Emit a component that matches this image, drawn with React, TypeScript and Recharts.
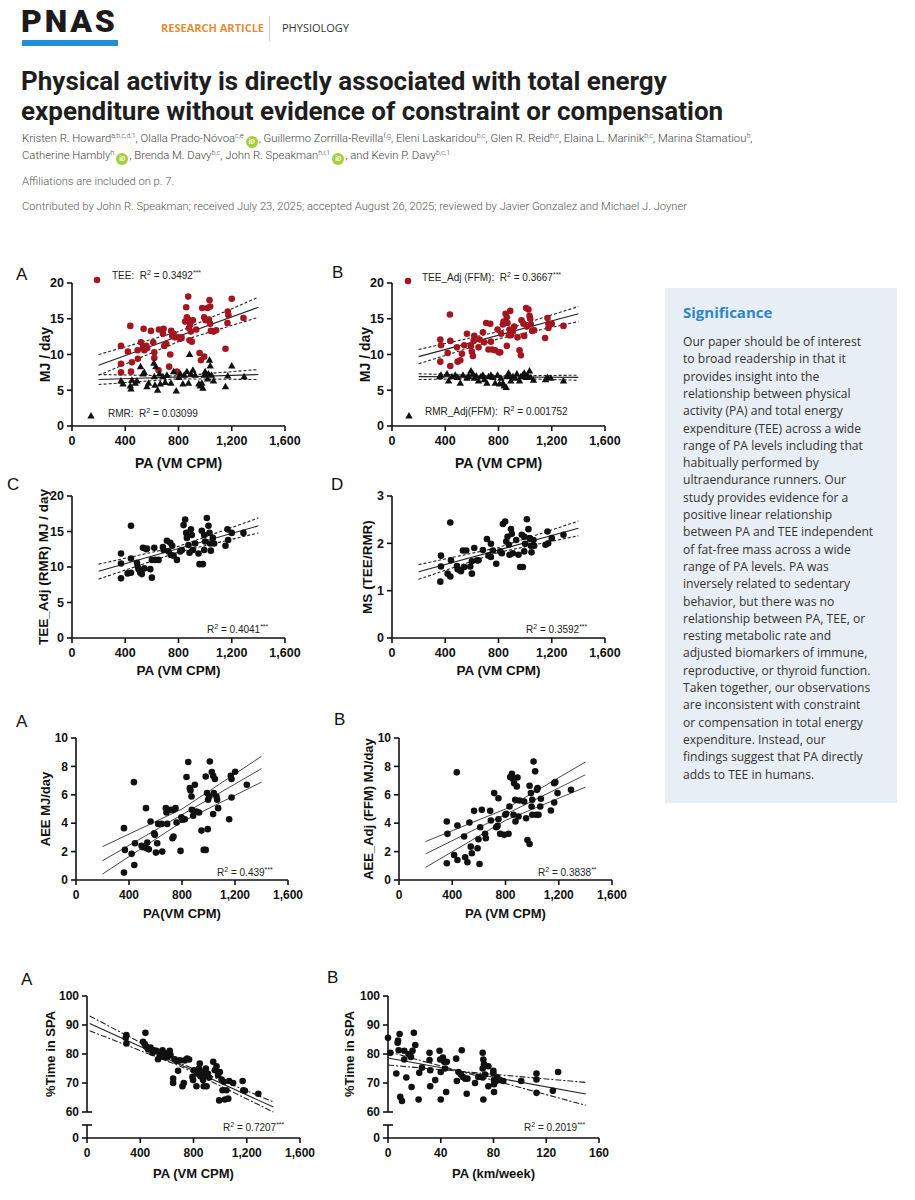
import React from "react";
import { ScatterChart, Scatter, XAxis, YAxis } from "recharts";

type Pair = [number, number];

// axis ticks
const paTicks = [0, 400, 800, 1200, 1600];
const mjTicks = [0, 5, 10, 15, 20];
const msTicks = [0, 1, 2, 3];
const aeeTicks = [0, 2, 4, 6, 8, 10];
const spaTicks = [60, 70, 80, 90, 100];
const spaBaseTicks = [0, 10];
const kmTicks = [0, 40, 80, 120, 160];

// Fig 1A: TEE and RMR vs PA
const teePoints: Pair[] = [
  [368, 11.2], [420, 10.4], [368, 8.7], [368, 7.5], [438, 14.0], [443, 7.6], [493, 10.6], [495, 9.4],
  [450, 8.9], [518, 11.7], [533, 11.0], [543, 10.6], [538, 13.6], [558, 11.2], [565, 10.9], [593, 13.3],
  [610, 11.7], [618, 10.3], [618, 9.5], [650, 7.8], [653, 13.5], [688, 13.6], [683, 12.9], [693, 11.2],
  [708, 11.5], [730, 8.3], [738, 10.0], [745, 13.3], [753, 12.6], [763, 12.9], [773, 12.4], [800, 12.4],
  [813, 12.2], [823, 12.4], [788, 7.6], [850, 14.6], [858, 16.6], [873, 18.1], [863, 15.2], [873, 14.9],
  [888, 14.2], [878, 13.7], [893, 13.2], [883, 12.0], [900, 11.8], [908, 14.8], [933, 13.5], [958, 10.2],
  [968, 9.2], [978, 16.5], [993, 15.2], [1003, 14.8], [993, 9.7], [1018, 16.5], [1033, 17.6], [1038, 16.7],
  [1028, 14.9], [1038, 14.3], [1043, 13.3], [1063, 13.2], [1083, 13.4], [1153, 10.8], [1170, 16.0],
  [1175, 15.5], [1168, 14.4], [1200, 17.8], [1288, 15.1],
];
const rmrPoints: Pair[] = [
  [368, 6.3], [383, 5.9], [438, 5.6], [443, 5.2], [450, 6.4], [475, 6.0], [488, 6.3], [515, 8.3],
  [533, 7.3], [543, 7.5], [563, 5.5], [575, 6.0], [615, 8.8], [630, 8.3], [618, 6.9], [623, 5.7],
  [643, 5.0], [658, 7.3], [663, 5.9], [683, 6.9], [700, 6.1], [713, 7.1], [743, 6.0], [763, 7.6],
  [783, 4.9], [803, 6.8], [813, 7.3], [833, 5.9], [843, 7.1], [863, 7.6], [875, 6.0], [883, 10.0],
  [893, 7.3], [908, 7.8], [925, 7.1], [953, 5.9], [963, 5.6], [975, 6.0], [983, 5.3], [993, 7.1],
  [1000, 7.6], [1018, 6.6], [1025, 7.3], [1033, 9.2], [1038, 8.4], [1048, 7.1], [1063, 6.3],
  [1153, 5.5], [1170, 7.0], [1200, 8.4], [1293, 6.9],
];
const teeFit: Pair[] = [[200, 8.5], [1400, 16.6]];
const teeUpper: Pair[] = [[200, 10.0], [800, 13.2], [1400, 18.0]];
const teeLower: Pair[] = [[200, 7.1], [800, 11.8], [1400, 15.2]];
const rmrFit: Pair[] = [[200, 6.5], [1400, 7.2]];
const rmrUpper: Pair[] = [[200, 7.2], [800, 7.0], [1400, 7.9]];
const rmrLower: Pair[] = [[200, 5.8], [800, 6.6], [1400, 6.5]];

// Fig 1B: FFM-adjusted TEE and RMR
const teeAdjPoints: Pair[] = [
  [363, 12.1], [368, 11.3], [363, 9.0], [418, 10.2], [435, 15.6], [438, 11.9], [438, 8.4], [488, 11.0],
  [493, 9.0], [513, 9.2], [525, 10.1], [543, 11.3], [563, 12.9], [593, 11.2], [600, 10.4], [608, 9.8],
  [618, 12.6], [613, 11.9], [650, 11.0], [658, 12.1], [683, 13.1], [693, 11.7], [708, 14.4], [725, 10.7],
  [738, 14.3], [743, 11.8], [753, 10.7], [775, 10.6], [793, 13.5], [803, 10.3], [813, 10.3], [820, 12.9],
  [833, 14.2], [838, 14.6], [853, 15.7], [863, 15.2], [863, 11.2], [868, 14.4], [883, 13.5], [888, 16.1],
  [878, 12.7], [893, 12.7], [908, 13.2], [918, 13.9], [943, 12.4], [958, 10.6], [968, 9.9], [973, 14.8],
  [988, 14.3], [993, 12.6], [1008, 16.5], [1025, 16.3], [1013, 13.9], [1033, 15.4], [1038, 15.0],
  [1043, 14.2], [1053, 13.3], [1068, 13.4], [1150, 12.3], [1168, 15.1], [1175, 14.3], [1175, 13.7],
  [1200, 14.3], [1288, 14.0],
];
const rmrAdjPoints: Pair[] = [
  [358, 6.9], [368, 7.1], [413, 7.3], [425, 6.3], [450, 6.9], [475, 7.1], [493, 6.8], [513, 6.0],
  [533, 7.1], [563, 6.7], [575, 7.0], [593, 7.7], [608, 7.3], [618, 6.7], [633, 7.0], [650, 6.3],
  [668, 6.9], [683, 7.1], [693, 6.5], [713, 6.0], [725, 6.9], [743, 7.1], [758, 6.8], [775, 6.0],
  [793, 7.1], [808, 5.9], [818, 6.7], [833, 6.0], [843, 5.6], [858, 5.4], [863, 6.9], [875, 7.4],
  [883, 7.1], [893, 6.3], [908, 6.9], [925, 6.7], [938, 7.3], [958, 6.3], [968, 6.9], [983, 7.1],
  [993, 7.4], [1008, 6.8], [1018, 7.1], [1033, 7.7], [1043, 6.8], [1063, 6.4], [1153, 6.5], [1168, 6.8],
  [1193, 6.7], [1288, 6.3],
];
const teeAdjFit: Pair[] = [[200, 9.7], [1400, 15.7]];
const teeAdjUpper: Pair[] = [[200, 10.7], [800, 13.2], [1400, 16.7]];
const teeAdjLower: Pair[] = [[200, 8.7], [800, 12.2], [1400, 14.6]];
const rmrAdjFit: Pair[] = [[200, 6.9], [1400, 6.8]];
const rmrAdjUpper: Pair[] = [[200, 7.3], [800, 7.0], [1400, 7.1]];
const rmrAdjLower: Pair[] = [[200, 6.5], [800, 6.7], [1400, 6.4]];

// Fig 1C: RMR-adjusted TEE
const teeRmrPoints: Pair[] = [
  [368, 11.9], [368, 10.5], [368, 8.4], [443, 15.8], [443, 11.2], [418, 9.1], [443, 9.2], [488, 10.6],
  [493, 10.1], [500, 9.7], [513, 9.2], [525, 9.0], [533, 12.7], [543, 9.8], [558, 12.5], [563, 12.6],
  [588, 9.7], [600, 11.0], [600, 8.5], [618, 12.7], [625, 11.0], [650, 11.0], [683, 12.8], [688, 12.4],
  [713, 13.7], [725, 12.2], [738, 13.4], [743, 11.7], [753, 13.0], [763, 11.6], [788, 11.0], [813, 12.2],
  [825, 12.4], [838, 15.9], [850, 16.7], [858, 14.8], [863, 14.1], [875, 13.1], [883, 12.0], [893, 15.3],
  [900, 14.5], [908, 12.4], [925, 13.3], [950, 11.9], [958, 10.4], [983, 10.4], [975, 15.1], [993, 14.5],
  [1000, 13.6], [993, 12.4], [1013, 16.9], [1025, 15.8], [1033, 14.8], [1038, 13.3], [1043, 12.3],
  [1058, 14.1], [1068, 13.3], [1153, 13.0], [1168, 15.3], [1173, 13.8], [1200, 14.8], [1288, 14.8],
];
const teeRmrFit: Pair[] = [[200, 9.4], [1400, 15.8]];
const teeRmrUpper: Pair[] = [[200, 10.4], [800, 12.9], [1400, 16.9]];
const teeRmrLower: Pair[] = [[200, 8.3], [800, 12.1], [1400, 14.8]];

// Fig 1D: metabolic scope
const msPoints: Pair[] = [
  [368, 1.74], [368, 1.51], [363, 1.19], [438, 2.44], [443, 1.64], [418, 1.36], [438, 1.30], [488, 1.52],
  [493, 1.45], [508, 1.44], [518, 1.41], [533, 1.85], [543, 1.50], [558, 1.85], [588, 1.51], [600, 1.62],
  [600, 1.36], [618, 1.90], [638, 1.64], [650, 1.64], [683, 1.86], [713, 2.09], [725, 1.74], [743, 1.99],
  [743, 1.71], [758, 1.85], [783, 1.57], [813, 1.83], [825, 1.79], [833, 2.41], [850, 2.46], [858, 2.04],
  [868, 2.14], [878, 1.97], [883, 1.76], [893, 2.30], [900, 2.20], [908, 1.79], [933, 2.07], [950, 1.76],
  [963, 1.50], [983, 1.50], [975, 2.18], [993, 2.14], [1000, 1.99], [993, 1.83], [1013, 2.51], [1025, 2.30],
  [1033, 2.11], [1043, 1.95], [1048, 1.81], [1063, 2.07], [1068, 1.95], [1153, 1.97], [1168, 2.25],
  [1173, 2.00], [1200, 2.11], [1288, 2.18],
];
const msFit: Pair[] = [[200, 1.40], [1400, 2.32]];
const msUpper: Pair[] = [[200, 1.55], [800, 1.91], [1400, 2.47]];
const msLower: Pair[] = [[200, 1.24], [800, 1.81], [1400, 2.16]];

// Fig 2A: AEE
const aeePoints: Pair[] = [
  [362, 3.65], [369, 2.12], [362, 0.52], [420, 1.84], [437, 6.89], [445, 2.59], [440, 1.06], [495, 2.40],
  [505, 2.31], [528, 5.06], [533, 2.24], [538, 2.64], [550, 2.16], [563, 4.12], [590, 3.29], [595, 3.18],
  [603, 1.93], [613, 2.59], [620, 3.95], [646, 3.95], [651, 2.00], [678, 5.06], [683, 4.75], [688, 3.95],
  [713, 4.94], [728, 2.94], [736, 3.06], [736, 4.94], [751, 5.06], [759, 4.05], [789, 2.05], [796, 4.42],
  [804, 4.24], [821, 4.28], [834, 7.25], [847, 8.31], [859, 6.47], [864, 6.31], [872, 5.88], [874, 4.94],
  [884, 4.52], [897, 6.71], [909, 4.82], [929, 4.75], [947, 3.48], [964, 2.12], [979, 2.12], [979, 7.29],
  [989, 6.12], [994, 3.58], [997, 5.65], [1005, 5.88], [1010, 8.35], [1025, 7.60], [1035, 7.34],
  [1035, 4.64], [1040, 6.12], [1048, 7.11], [1060, 5.88], [1065, 5.65], [1073, 5.06], [1156, 4.28],
  [1168, 7.34], [1174, 7.11], [1174, 5.81], [1201, 7.62], [1289, 6.71],
];
const aeeFit: Pair[] = [[200, 1.36], [1400, 7.84]];
const aeeUpper: Pair[] = [[200, 2.35], [800, 5.0], [1400, 8.71]];
const aeeLower: Pair[] = [[200, 0.42], [800, 4.1], [1400, 6.89]];

// Fig 2B: FFM-adjusted AEE
const aeeAdjPoints: Pair[] = [
  [359, 4.12], [364, 3.25], [359, 1.18], [414, 1.76], [434, 7.58], [439, 3.84], [439, 1.41], [489, 3.06],
  [497, 1.60], [514, 1.25], [529, 4.05], [539, 2.35], [547, 1.88], [564, 4.87], [590, 2.24], [597, 2.87],
  [605, 1.13], [610, 3.72], [622, 4.94], [647, 3.25], [652, 2.94], [685, 4.87], [690, 4.19], [715, 6.12],
  [730, 3.72], [740, 3.81], [747, 5.76], [747, 4.28], [760, 3.25], [790, 3.18], [798, 4.59], [805, 4.66],
  [823, 3.25], [830, 5.18], [835, 7.25], [848, 7.48], [855, 7.13], [860, 4.59], [865, 6.82], [873, 5.65],
  [875, 4.12], [885, 6.59], [890, 7.22], [898, 4.47], [905, 5.60], [940, 5.53], [955, 4.35], [965, 2.82],
  [981, 2.54], [981, 6.64], [991, 6.12], [996, 5.18], [1001, 5.65], [1001, 4.59], [1011, 8.35],
  [1023, 7.65], [1031, 4.59], [1036, 6.35], [1041, 6.47], [1048, 4.59], [1061, 5.18], [1066, 5.72],
  [1141, 4.89], [1166, 5.46], [1166, 6.82], [1174, 6.89], [1191, 6.12], [1292, 6.35],
];
const aeeAdjFit: Pair[] = [[200, 1.84], [1400, 7.41]];
const aeeAdjUpper: Pair[] = [[200, 2.71], [800, 5.0], [1400, 8.31]];
const aeeAdjLower: Pair[] = [[200, 0.89], [800, 4.2], [1400, 6.54]];

// Fig 3A: % time in SPA vs PA (CPM)
const spaCpmPoints: Pair[] = [
  [296, 86.5], [296, 83.6], [291, 85.6], [439, 87.3], [421, 84.2], [434, 83.4], [446, 82.5], [459, 81.6],
  [477, 82.2], [492, 80.4], [502, 81.3], [522, 81.1], [534, 78.2], [547, 79.6], [567, 81.3], [577, 79.0],
  [592, 80.2], [602, 78.8], [622, 81.1], [627, 79.6], [647, 71.5], [647, 70.0], [659, 78.2], [672, 77.6],
  [684, 74.2], [697, 77.8], [717, 68.9], [727, 70.0], [734, 77.8], [752, 78.4], [767, 78.1], [792, 72.1],
  [797, 71.0], [802, 74.4], [822, 68.9], [827, 73.3], [842, 75.0], [847, 76.7], [852, 72.3], [868, 73.8],
  [872, 71.0], [877, 68.9], [885, 72.3], [893, 75.0], [898, 68.9], [908, 73.3], [918, 71.9], [948, 77.3],
  [960, 74.4], [973, 75.8], [985, 72.7], [993, 64.0], [998, 73.8], [1011, 71.2], [1018, 67.5],
  [1028, 70.4], [1036, 64.3], [1048, 67.5], [1061, 64.6], [1068, 70.7], [1098, 70.0], [1169, 70.7],
  [1174, 67.5], [1186, 67.3], [1287, 66.3],
];
const spaCpmFit: Pair[] = [[20, 90.5], [1400, 61.7]];
const spaCpmUpper: Pair[] = [[20, 93.1], [700, 76.8], [1400, 63.5]];
const spaCpmLower: Pair[] = [[20, 88.0], [700, 75.8], [1400, 60.0]];

// Fig 3B: % time in SPA vs PA (km/week)
const spaKmPoints: Pair[] = [
  [0, 85.6], [1.8, 80.4], [6.3, 73.3], [7.3, 83.9], [7.6, 84.6], [8.8, 86.9], [8.1, 81.3], [9.3, 65.2],
  [10.6, 63.8], [12.3, 81.1], [12.3, 78.1], [13.9, 71.9], [15.6, 80.0], [17.4, 79.0], [17.9, 68.6],
  [18.6, 81.1], [19.6, 87.3], [20.7, 83.1], [23.2, 64.3], [23.7, 73.5], [25.7, 75.3], [31.5, 80.4],
  [31.5, 77.9], [32, 74.4], [32, 68.9], [35.8, 71.0], [39.1, 81.1], [39.6, 78.1], [40, 73.8], [40, 64.3],
  [41.6, 78.8], [42.6, 77.3], [43.3, 75.0], [44.1, 66.9], [44.6, 77.3], [51.7, 78.4], [52.2, 70.7],
  [53.4, 73.8], [55.2, 73.0], [55.9, 81.3], [56.7, 72.1], [58.5, 71.5], [59.7, 66.3], [60.2, 71.5],
  [66, 70.0], [68.5, 72.1], [71.8, 80.4], [72.3, 78.1], [72.8, 76.5], [71.8, 75.0], [71.8, 71.9],
  [72.3, 64.3], [73.6, 72.9], [76.1, 75.8], [76.1, 68.9], [79.9, 74.2], [79.9, 73.3], [80.4, 71.0],
  [80.4, 69.6], [80.4, 66.9], [81.9, 70.7], [82.9, 71.9], [84.9, 71.0], [87.4, 70.7], [101, 70.7],
  [112.6, 73.3], [112.6, 71.2], [112.6, 66.6], [125, 67.3], [129, 73.8],
];
const spaKmFit: Pair[] = [[0, 78.6], [150, 66.2]];
const spaKmSteep: Pair[] = [[0, 80.8], [150, 62.3]];
const spaKmFlat: Pair[] = [[0, 76.2], [150, 70.2]];

const significanceLines = [
  "Our paper should be of interest",
  "to broad readership in that it",
  "provides insight into the",
  "relationship between physical",
  "activity (PA) and total energy",
  "expenditure (TEE) across a wide",
  "range of PA levels including that",
  "habitually performed by",
  "ultraendurance runners. Our",
  "study provides evidence for a",
  "positive linear relationship",
  "between PA and TEE independent",
  "of fat-free mass across a wide",
  "range of PA levels. PA was",
  "inversely related to sedentary",
  "behavior, but there was no",
  "relationship between PA, TEE, or",
  "resting metabolic rate and",
  "adjusted biomarkers of immune,",
  "reproductive, or thyroid function.",
  "Taken together, our observations",
  "are inconsistent with constraint",
  "or compensation in total energy",
  "expenditure. Instead, our",
  "findings suggest that PA directly",
  "adds to TEE in humans.",
];

const RED = "#a3161f";
const INK = "#111";
const FIG_FONT = '"Liberation Sans", Arial, sans-serif';

const toXY = (d: Pair[]) => d.map(([x, y]) => ({ x, y }));

const dotShape = (fill: string) => (p: any) => <circle cx={p.cx} cy={p.cy} r={3.3} fill={fill} />;
const triShape = (p: any) => (
  <path d={`M${p.cx},${p.cy - 3.9}L${p.cx + 3.7},${p.cy + 2.6}L${p.cx - 3.7},${p.cy + 2.6}Z`} fill={INK} />
);
const noShape = () => <g />;

function points(key: string, d: Pair[], shape: any) {
  return <Scatter key={key} data={toXY(d)} shape={shape} isAnimationActive={false} />;
}

function fit(key: string, d: Pair[], dash?: string, color = "#222", w = 1.1) {
  return (
    <Scatter
      key={key}
      data={toXY(d)}
      shape={noShape}
      line={{ stroke: color, strokeWidth: w, strokeDasharray: dash }}
      lineType="joint"
      isAnimationActive={false}
    />
  );
}

const fmt = (v: number) => v.toLocaleString("en-US");

// y-axis tick that can draw a break cap across the axis
const capTick = (capValue: number, fontSize: number, showCapLabel: boolean) => (p: any) => {
  const v = p.payload.value;
  const isCap = v === capValue;
  return (
    <g>
      {(!isCap || showCapLabel) && (
        <text x={p.x} y={p.y} dy={fontSize * 0.36} textAnchor="end" fontFamily={FIG_FONT} fontWeight={700} fontSize={fontSize} fill={INK}>
          {v}
        </text>
      )}
      {isCap && <line x1={p.x + 8} x2={p.x + 13} y1={p.y} y2={p.y} stroke={INK} strokeWidth={1.6} />}
    </g>
  );
};

type PanelProps = {
  x0: number; y0: number; x1: number; y1: number;
  yAxisW: number; xGap: number;
  xDomain: [number, number]; xTicks: number[];
  yDomain: [number, number]; yTicks: number[];
  yLabel?: string; xLabel?: string;
  labelFont?: number; tickFont?: number;
  hideX?: boolean; yTick?: any; clipY?: boolean;
  children?: React.ReactNode;
};

function Panel(p: PanelProps) {
  const mTop = 10;
  const mRight = 16;
  const mBottom = 10;
  const tickFont = p.tickFont ?? 12;
  const labelFont = p.labelFont ?? 13;
  const xH = p.hideX ? 0 : p.xGap * 2;
  const plotW = p.x1 - p.x0;
  const plotH = p.y1 - p.y0;
  const width = p.yAxisW + plotW + mRight;
  const height = mTop + plotH + xH + mBottom;
  const tickStyle = { fontFamily: FIG_FONT, fontWeight: 700, fontSize: tickFont, fill: INK };
  const labelStyle = { fontFamily: FIG_FONT, fontWeight: 700, fontSize: labelFont, fill: INK, textAnchor: "middle" as const };
  return (
    <div style={{ position: "absolute", left: p.x0 - p.yAxisW, top: p.y0 - mTop }}>
      <ScatterChart width={width} height={height} margin={{ top: mTop, right: mRight, bottom: mBottom, left: 0 }}>
        <XAxis
          type="number"
          dataKey="x"
          domain={p.xDomain}
          ticks={p.xTicks}
          interval={0}
          hide={p.hideX}
          height={xH || 1}
          tickFormatter={fmt}
          tick={tickStyle}
          tickSize={5}
          tickMargin={5}
          axisLine={{ stroke: INK, strokeWidth: 1.6 }}
          tickLine={{ stroke: INK, strokeWidth: 1.6 }}
          label={p.xLabel ? { value: p.xLabel, position: "center", style: labelStyle } : undefined}
        />
        <YAxis
          type="number"
          dataKey="y"
          domain={p.yDomain}
          allowDataOverflow={p.clipY}
          ticks={p.yTicks}
          interval={0}
          width={p.yAxisW}
          tick={p.yTick ?? tickStyle}
          tickSize={5}
          tickMargin={3}
          axisLine={{ stroke: INK, strokeWidth: 1.6 }}
          tickLine={{ stroke: INK, strokeWidth: 1.6 }}
          label={p.yLabel ? { value: p.yLabel, angle: -90, position: "center", style: labelStyle } : undefined}
        />
        {p.children}
      </ScatterChart>
    </div>
  );
}

const abs = (left: number, top: number, extra: React.CSSProperties = {}): React.CSSProperties => ({
  position: "absolute", left, top, whiteSpace: "nowrap", ...extra,
});

function Letter({ x, y, t }: { x: number; y: number; t: string }) {
  return <div style={abs(x - 6, y - 10, { fontFamily: FIG_FONT, fontSize: 17, lineHeight: "20px", color: INK })}>{t}</div>;
}

function Note({ x, y, children, size = 10 }: { x: number; y: number; children: React.ReactNode; size?: number }) {
  return <div style={abs(x, y - 7, { fontFamily: FIG_FONT, fontSize: size, lineHeight: "14px", color: "#222" })}>{children}</div>;
}

const R2 = () => <span>R<sup style={{ fontSize: 7, verticalAlign: "top", lineHeight: "8px" }}>2</sup></span>;
const Stars = ({ n }: { n: number }) => <sup style={{ fontSize: 7, verticalAlign: "top", lineHeight: "8px" }}>{"*".repeat(n)}</sup>;

function Sup({ t }: { t: string }) {
  return <span style={{ fontSize: 7, position: "relative", top: -4 }}>{t}</span>;
}

function Orcid() {
  return (
    <span style={{ display: "inline-block", width: 12, height: 12, borderRadius: 6, background: "#a6ce39", color: "#fff", fontSize: 6.5, fontWeight: 700, lineHeight: "12px", textAlign: "center", verticalAlign: "-2px", margin: "0 1px 0 2px", fontFamily: "Roboto" }}>
      iD
    </span>
  );
}

const authorStyle: React.CSSProperties = { fontFamily: "Roboto", fontWeight: 300, fontSize: 11.3, lineHeight: "16px", color: "#444" };
const metaStyle: React.CSSProperties = { fontFamily: "Roboto", fontWeight: 300, fontSize: 11.2, lineHeight: "16px", color: "#555" };
const titleStyle: React.CSSProperties = { fontFamily: "Roboto", fontWeight: 700, fontSize: 26, lineHeight: "30px", color: "#1e1e1e" };

export default function App() {
  const text = { fontFamily: '"Open Sans", sans-serif' };
  return (
    <div style={{ position: "absolute", left: 0, top: 0, width: 915, height: 1200, background: "#fff", overflow: "hidden", ...text }}>
      {/* header */}
      <div style={abs(21, 5, { fontFamily: "Roboto", fontWeight: 900, fontSize: 32, lineHeight: "32px", letterSpacing: 2.8, color: "#1b1b1b" })}>PNAS</div>
      <div style={abs(22, 40, { width: 96, height: 6, background: "#1f8fd6" })} />
      <div style={abs(161, 20, { fontSize: 11, fontWeight: 700, color: "#e88b35", lineHeight: "16px" })}>RESEARCH ARTICLE</div>
      <div style={abs(269, 16, { width: 1, height: 25, background: "#cfcfcf" })} />
      <div style={abs(282, 20, { fontSize: 11, color: "#333", lineHeight: "16px" })}>PHYSIOLOGY</div>

      {/* title */}
      <div style={abs(21, 66, titleStyle)}>Physical activity is directly associated with total energy</div>
      <div style={abs(21, 96, titleStyle)}>expenditure without evidence of constraint or compensation</div>

      {/* authors */}
      <div style={abs(22, 131, authorStyle)}>
        Kristen R. Howard<Sup t="a,b,c,d,1" />, Olalla Prado-Nóvoa<Sup t="c,e" /><Orcid />, Guillermo Zorrilla-Revilla<Sup t="f,g" />, Eleni Laskaridou<Sup t="b,c" />, Glen R. Reid<Sup t="b,c" />, Elaina L. Marinik<Sup t="b,c" />, Marina Stamatiou<Sup t="h" />,
      </div>
      <div style={abs(22, 148, authorStyle)}>
        Catherine Hambly<Sup t="h" /><Orcid />, Brenda M. Davy<Sup t="b,c" />, John R. Speakman<Sup t="h,i,1" /><Orcid />, and Kevin P. Davy<Sup t="b,c,1" />
      </div>
      <div style={abs(22, 174, metaStyle)}>Affiliations are included on p. 7.</div>
      <div style={abs(22, 199, metaStyle)}>
        Contributed by John R. Speakman; received July 23, 2025; accepted August 26, 2025; reviewed by Javier Gonzalez and Michael J. Joyner
      </div>

      {/* significance */}
      <div style={abs(665, 288, { width: 232, height: 515, background: "#e8eef5" })} />
      <div style={abs(683, 302, { fontSize: 15, fontWeight: 700, color: "#2e87c8", lineHeight: "20px" })}>Significance</div>
      {significanceLines.map((l, i) => (
        <div key={i} style={abs(683, 333 + i * 17.3, { fontSize: 12.1, lineHeight: "17px", color: "#333" })}>{l}</div>
      ))}

      {/* Figure 1 */}
      <Letter x={22} y={275} t="A" />
      <Letter x={338} y={273} t="B" />
      <Letter x={13} y={485} t="C" />
      <Letter x={337} y={485} t="D" />

      <Panel x0={72} y0={283} x1={285} y1={426} yAxisW={54} xGap={37} labelFont={14} tickFont={12.5} xDomain={[0, 1600]} xTicks={paTicks} yDomain={[0, 20]} yTicks={mjTicks} yLabel="MJ / day" xLabel="PA (VM CPM)">
        {[
          fit("tu", teeUpper, "3 2"), fit("tl", teeLower, "3 2"), fit("tf", teeFit),
          fit("ru", rmrUpper, "3 2"), fit("rl", rmrLower, "3 2"), fit("rf", rmrFit),
          points("tee", teePoints, dotShape(RED)), points("rmr", rmrPoints, triShape),
        ]}
      </Panel>
      <Panel x0={392} y0={283} x1={605} y1={426} yAxisW={54} xGap={37} labelFont={14} tickFont={12.5} xDomain={[0, 1600]} xTicks={paTicks} yDomain={[0, 20]} yTicks={mjTicks} yLabel="MJ / day" xLabel="PA (VM CPM)">
        {[
          fit("tu", teeAdjUpper, "3 2"), fit("tl", teeAdjLower, "3 2"), fit("tf", teeAdjFit),
          fit("ru", rmrAdjUpper, "3 2"), fit("rl", rmrAdjLower, "3 2"), fit("rf", rmrAdjFit),
          points("tee", teeAdjPoints, dotShape(RED)), points("rmr", rmrAdjPoints, triShape),
        ]}
      </Panel>
      <Panel x0={72} y0={496} x1={285} y1={638} yAxisW={58} xGap={32} labelFont={13.5} tickFont={12.5} xDomain={[0, 1600]} xTicks={paTicks} yDomain={[0, 20]} yTicks={mjTicks} yLabel="TEE_Adj (RMR) MJ / day" xLabel="PA (VM CPM)">
        {[
          fit("u", teeRmrUpper, "3 2"), fit("l", teeRmrLower, "3 2"), fit("f", teeRmrFit),
          points("p", teeRmrPoints, dotShape(INK)),
        ]}
      </Panel>
      <Panel x0={392} y0={496} x1={605} y1={638} yAxisW={50} xGap={32} labelFont={13.5} tickFont={12.5} xDomain={[0, 1600]} xTicks={paTicks} yDomain={[0, 3]} yTicks={msTicks} yLabel="MS (TEE/RMR)" xLabel="PA (VM CPM)">
        {[
          fit("u", msUpper, "3 2"), fit("l", msLower, "3 2"), fit("f", msFit),
          points("p", msPoints, dotShape(INK)),
        ]}
      </Panel>

      <div style={abs(92, 269, { height: 12 })}>
        <svg width={12} height={12}><circle cx={5} cy={6} r={3.3} fill={RED} /></svg>
      </div>
      <Note x={112} y={276}>TEE:&nbsp; <R2 /> = 0.3492<Stars n={3} /></Note>
      <div style={abs(85, 405, { height: 12 })}>
        <svg width={12} height={12}><path d="M6,2.1L9.7,8.6L2.3,8.6Z" fill={INK} /></svg>
      </div>
      <Note x={108} y={414}>RMR:&nbsp; <R2 /> = 0.03099</Note>
      <div style={abs(403, 270, { height: 12 })}>
        <svg width={12} height={12}><circle cx={5} cy={6} r={3.3} fill={RED} /></svg>
      </div>
      <Note x={422} y={278}>TEE_Adj (FFM):&nbsp; <R2 /> = 0.3667<Stars n={3} /></Note>
      <div style={abs(403, 405, { height: 12 })}>
        <svg width={12} height={12}><path d="M6,2.1L9.7,8.6L2.3,8.6Z" fill={INK} /></svg>
      </div>
      <Note x={425} y={412}>RMR_Adj(FFM):&nbsp; <R2 /> = 0.001752</Note>
      <Note x={207} y={630}><R2 /> = 0.4041<Stars n={3} /></Note>
      <Note x={526} y={630}><R2 /> = 0.3592<Stars n={3} /></Note>

      {/* Figure 2 */}
      <Letter x={22} y={722} t="A" />
      <Letter x={340} y={720} t="B" />
      <Panel x0={76} y0={738} x1={288} y1={880} yAxisW={62} xGap={33} xDomain={[0, 1600]} xTicks={paTicks} yDomain={[0, 10]} yTicks={aeeTicks} yLabel="AEE MJ/day" xLabel="PA(VM CPM)">
        {[
          fit("u", aeeUpper, undefined, "#333", 0.9), fit("l", aeeLower, undefined, "#333", 0.9), fit("f", aeeFit, undefined, "#333", 0.9),
          points("p", aeePoints, dotShape(INK)),
        ]}
      </Panel>
      <Panel x0={399} y0={738} x1={612} y1={880} yAxisW={62} xGap={33} xDomain={[0, 1600]} xTicks={paTicks} yDomain={[0, 10]} yTicks={aeeTicks} yLabel="AEE_Adj (FFM) MJ/day" xLabel="PA (VM CPM)">
        {[
          fit("u", aeeAdjUpper, undefined, "#333", 0.9), fit("l", aeeAdjLower, undefined, "#333", 0.9), fit("f", aeeAdjFit, undefined, "#333", 0.9),
          points("p", aeeAdjPoints, dotShape(INK)),
        ]}
      </Panel>
      <Note x={217} y={873}><R2 /> = 0.439<Stars n={3} /></Note>
      <Note x={538} y={873}><R2 /> = 0.3838<Stars n={2} /></Note>

      {/* Figure 3: broken y axis = upper segment (60-100) + base segment (0) */}
      <Letter x={27} y={980} t="A" />
      <Letter x={333} y={978} t="B" />
      <Panel x0={87} y0={996} x1={300} y1={1112} yAxisW={74} xGap={0} hideX xDomain={[0, 1600]} xTicks={paTicks} yDomain={[60, 100]} yTicks={spaTicks} yLabel="%Time in SPA" yTick={capTick(60, 12, true)}>
        {[
          fit("u", spaCpmUpper, "6 2 2 2"), fit("l", spaCpmLower, "6 2 2 2"), fit("f", spaCpmFit),
          points("p", spaCpmPoints, dotShape(INK)),
        ]}
      </Panel>
      <Panel x0={87} y0={1125} x1={300} y1={1138} yAxisW={74} xGap={35} clipY xDomain={[0, 1600]} xTicks={paTicks} yDomain={[0, 10]} yTicks={spaBaseTicks} xLabel="PA (VM CPM)" yTick={capTick(10, 12, false)}>
        {[points("p", spaCpmPoints, noShape)]}
      </Panel>
      <Panel x0={388} y0={996} x1={599} y1={1112} yAxisW={78} xGap={0} hideX xDomain={[0, 160]} xTicks={kmTicks} yDomain={[60, 100]} yTicks={spaTicks} yLabel="%Time in SPA" yTick={capTick(60, 12, true)}>
        {[
          fit("s", spaKmSteep, "6 2 2 2"), fit("fl", spaKmFlat, "6 2 2 2"), fit("f", spaKmFit),
          points("p", spaKmPoints, dotShape(INK)),
        ]}
      </Panel>
      <Panel x0={388} y0={1125} x1={599} y1={1138} yAxisW={78} xGap={35} clipY xDomain={[0, 160]} xTicks={kmTicks} yDomain={[0, 10]} yTicks={spaBaseTicks} xLabel="PA (km/week)" yTick={capTick(10, 12, false)}>
        {[points("p", spaKmPoints, noShape)]}
      </Panel>
      <Note x={223} y={1128}><R2 /> = 0.7207<Stars n={3} /></Note>
      <Note x={524} y={1128}><R2 /> = 0.2019<Stars n={3} /></Note>
    </div>
  );
}
